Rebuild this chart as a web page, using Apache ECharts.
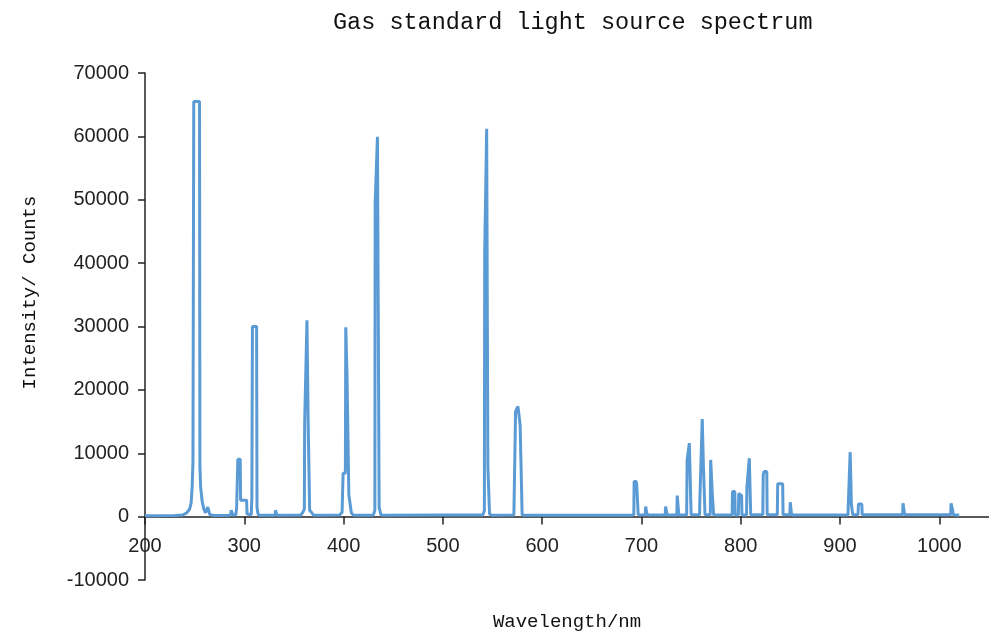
<!DOCTYPE html>
<html>
<head>
<meta charset="utf-8">
<title>Gas standard light source spectrum</title>
<script src="https://cdn.jsdelivr.net/npm/echarts@6/dist/echarts.min.js"></script>
<style>
  html, body { margin: 0; padding: 0; background: #fff; }
  #chart { width: 989px; height: 637px; }
</style>
</head>
<body>
<div id="chart"></div>
<script>
// [wavelength nm, counts], split by region
const uvRegion = [
  [200, 150], [230, 160], [238, 250], [242, 600], [245, 1200], [246.5, 2200],
  [247.5, 4700], [248.3, 8700], [248.8, 8700], [249.1, 65500], [254.9, 65500],
  [255.3, 8000], [256, 4700], [257.5, 2500], [259, 1300], [261, 600], [262.5, 700],
  [263.2, 1500], [264.5, 1500], [265.3, 300], [270, 180], [286, 200], [286.8, 1000],
  [287.8, 1000], [288.6, 250], [291.5, 300], [292.3, 1500], [293.3, 1500],
  [293.5, 9060], [295.9, 9060], [296.3, 2600], [302.3, 2600], [302.8, 400],
  [307, 300], [307.6, 3000], [308.2, 30000], [312.4, 30000], [312.8, 1500],
  [313.5, 700], [314.5, 200], [331, 200], [331.4, 1000], [332.6, 1000], [333, 200],
  [357, 250], [359, 700], [360.5, 1200], [360.8, 14750], [362.8, 14750],
  [363.1, 31000], [364.1, 31000], [364.4, 14200], [365.4, 14200], [365.8, 1000],
  [368, 600], [370, 200], [396, 250], [398.5, 700], [399.5, 6850], [401.8, 6850],
  [402.2, 29870], [403, 29870], [403.4, 22650], [404.9, 22650], [405.3, 3430],
  [407.2, 3430], [407.8, 600], [410, 200]
];

const visRegion = [
  [425, 200], [430, 250], [431.5, 1000], [431.8, 49500], [433.8, 49500],
  [434.1, 59930], [435.4, 59930], [435.8, 1500], [437.5, 300], [440, 200],
  [500, 250], [540, 250], [541.8, 900], [542.1, 41600], [543.8, 41600],
  [544.1, 61200], [545, 61200], [545.3, 7900], [546.6, 7900], [547, 400],
  [550, 200], [571.5, 250], [572.8, 300], [573.2, 16600], [575, 16600],
  [575.6, 17380], [577.4, 17380], [577.8, 14490], [579.4, 14490], [579.8, 300],
  [582, 200]
];

const nirRegion = [
  [600, 200], [690, 200], [692.3, 300], [692.6, 5530], [694.8, 5530], [695.2, 5000],
  [696.3, 5000], [696.7, 300], [703.8, 250], [704.2, 1580], [705.3, 1580],
  [705.7, 250], [723.9, 250], [724.3, 1580], [725.5, 1580], [725.9, 250],
  [735.6, 250], [736, 3320], [737.2, 3320], [737.6, 250], [745.5, 250],
  [746, 8950], [747.8, 8950], [748.2, 11600], [749.6, 11600], [750, 300],
  [758.5, 300], [758.8, 2640], [760.8, 2640], [761.2, 15380], [762, 15380],
  [762.4, 7900], [763.6, 7900], [764, 300], [769.3, 300], [769.7, 8950],
  [770.8, 8950], [771.2, 3950], [772.3, 3950], [772.7, 250], [791.3, 250],
  [791.7, 3950], [794, 3950], [794.4, 250], [797.6, 250], [798, 3650],
  [799.5, 3500], [800.8, 3350], [801.2, 250], [805.8, 250], [806.2, 4640],
  [808.2, 4640], [808.6, 9220], [809.6, 9220], [810, 300], [822.2, 300],
  [822.6, 6500], [823.4, 7110], [826.2, 7110], [826.6, 300], [836.8, 300],
  [837.2, 5170], [842.2, 5170], [842.6, 300], [849.4, 300], [849.8, 2270],
  [850.8, 2270], [851.2, 250], [863.8, 250], [864.2, 420], [864.8, 420],
  [865.2, 200], [908, 250], [908.4, 2370], [909.8, 2370], [910.2, 10170],
  [911, 10170], [911.4, 2000], [912.2, 1000], [912.8, 300], [918.1, 300],
  [918.5, 2000], [921.9, 2000], [922.3, 300], [963, 300], [963.4, 2100],
  [964.6, 2100], [965, 300], [1011.4, 300], [1011.8, 2100], [1013, 2100],
  [1013.4, 1000], [1014, 300], [1020, 200]
];

const spectrum = uvRegion.concat(visRegion, nirRegion);

const chart = echarts.init(document.getElementById('chart'));

const axisFont = 'Liberation Sans, Arial, sans-serif';
const monoFont = 'Liberation Mono, DejaVu Sans Mono, monospace';

// y range -10000..70000 over a 507 px tall grid: zero sits 63.4 px above the bottom
chart.setOption({
  animation: false,
  title: {
    text: 'Gas standard light source spectrum',
    left: 328,
    top: 6,
    textStyle: {
      fontFamily: monoFont,
      fontSize: 23.5,
      fontWeight: 'normal',
      color: '#111'
    }
  },
  grid: {
    left: 145,
    right: 0,
    top: 73,
    bottom: 57,
    outerBoundsMode: 'none'
  },
  xAxis: {
    type: 'value',
    min: 200,
    max: 1050,
    interval: 100,
    offset: -63.4,
    name: 'Wavelength/nm',
    nameLocation: 'middle',
    nameGap: 96,
    nameTextStyle: { fontFamily: monoFont, fontSize: 19, color: '#111' },
    axisLine: { onZero: false, lineStyle: { color: '#222', width: 1.5 } },
    axisTick: { length: 8, lineStyle: { color: '#222', width: 1.5 } },
    axisLabel: {
      margin: 20,
      fontFamily: axisFont,
      fontSize: 20,
      color: '#222',
      showMaxLabel: false,
      formatter: (v) => String(v)
    },
    splitLine: { show: false }
  },
  yAxis: {
    type: 'value',
    min: -10000,
    max: 70000,
    interval: 10000,
    name: 'Intensity/ Counts',
    nameLocation: 'middle',
    nameGap: 106,
    nameTextStyle: {
      fontFamily: monoFont,
      fontSize: 19,
      color: '#111',
      padding: [0, 0, 0, 68]
    },
    axisLine: { show: true, lineStyle: { color: '#222', width: 1.5 } },
    axisTick: { show: true, length: 7, lineStyle: { color: '#222', width: 1.5 } },
    axisLabel: {
      margin: 16,
      fontFamily: axisFont,
      fontSize: 20,
      color: '#222',
      formatter: (v) => String(v)
    },
    splitLine: { show: false }
  },
  series: [
    {
      type: 'line',
      data: spectrum,
      showSymbol: false,
      lineStyle: { color: '#5b9bd5', width: 3 },
      itemStyle: { color: '#5b9bd5' }
    }
  ]
});
</script>
</body>
</html>
